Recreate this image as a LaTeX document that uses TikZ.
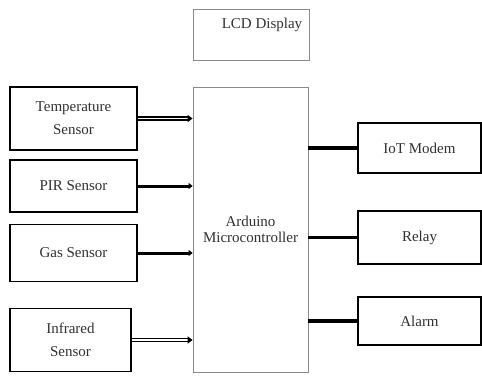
\documentclass[tikz,border=0pt]{standalone}
\usepackage{fontspec}
\setmainfont{Liberation Serif}
\usepackage{xcolor}
\usepackage{tikz}
\usetikzlibrary{arrows.meta,positioning,calc}
\definecolor{ink}{HTML}{303030}
\definecolor{frame}{HTML}{8A8A8A}

\begin{document}
\begin{tikzpicture}[
  x=1pt, y=-1pt,
  font=\fontsize{15}{23}\selectfont, text=ink,
  sensor/.style={draw=black, line width=1.8pt, minimum width=127pt, align=center, inner sep=0pt},
  output/.style={draw=black, line width=1.8pt, minimum width=123pt, align=center, inner sep=0pt},
  unit/.style={draw=frame, line width=0.8pt, inner sep=0pt},
  thickarrow/.style={-{Triangle[length=4pt,width=6pt]}, line width=3pt, draw=black},
  dblarrow/.style={-{Triangle[length=5pt,width=7pt]}, double=white, double distance=1.1pt, line width=1.5pt, draw=black},
  link/.style={line width=3.5pt, draw=black}
]
  \useasboundingbox (0,0) rectangle (482,375);

  % controller and display
  \node[unit, minimum width=116pt, minimum height=51pt] (lcd) at (251,34.5) {};
  \node (lcdtext) at (262,25) {LCD Display};
  \node[unit, minimum width=115pt, minimum height=285pt, align=center,
        font=\fontsize{15}{16.5}\selectfont] (mcu) at (250.5,229.5) {Arduino\\Microcontroller};

  % inputs
  \node[sensor, minimum height=63pt] (temp) at (73.5,118.5) {Temperature\\Sensor};
  \node[sensor, minimum height=52pt] (pir) at (73.5,186) {PIR Sensor};
  \node[sensor, minimum height=57pt] (gas) at (73.5,253) {Gas Sensor};
  \node[sensor, minimum width=121pt, minimum height=63pt] (ir) at (70.5,340) {Infrared\\Sensor};

  % outputs
  \node[output, minimum height=50pt] (iot) at (419.5,148) {IoT Modem};
  \node[output, minimum height=53pt] (relay) at (419.5,237.5) {Relay};
  \node[output, minimum height=48pt] (alarm) at (419.5,321) {Alarm};

  \draw[dblarrow] (temp) -- (temp -| mcu.west);
  \draw[thickarrow] (pir) -- (pir -| mcu.west);
  \draw[thickarrow] (gas) -- (gas -| mcu.west);
  \draw[dblarrow] (ir) -- (ir -| mcu.west);

  \draw[link] (mcu.east |- iot) -- (iot);
  \draw[link] (mcu.east |- relay) -- (relay);
  \draw[link] (mcu.east |- alarm) -- (alarm);
\end{tikzpicture}
\end{document}
